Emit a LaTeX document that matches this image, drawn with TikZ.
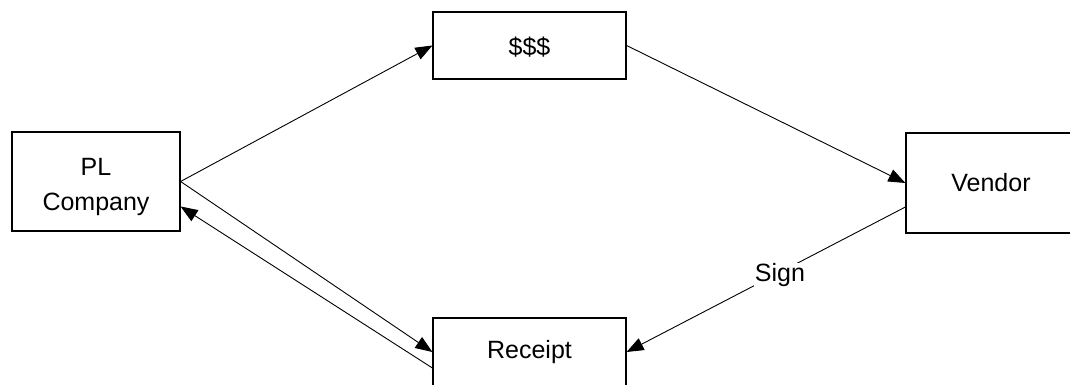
\documentclass[tikz,border=0pt]{standalone}
\usepackage{fontspec}
\setmainfont{Liberation Sans}
\usetikzlibrary{arrows.meta}
\begin{document}
\begin{tikzpicture}[x=1pt,y=-1pt,
  box/.style={draw, line width=1.2pt, inner sep=0pt},
  txt/.style={inner sep=0pt, align=center, font=\fontsize{25}{35}\selectfont},
  link/.style={line width=0.9pt, -{Triangle[length=17pt,width=13pt]}},
  tag/.style={fill=white, inner sep=1pt, font=\fontsize{25}{29}\selectfont}]
\useasboundingbox (0,0) rectangle (1070,385);
\clip (0,0) rectangle (1070,385);
% boxes
\node[box, minimum width=168pt, minimum height=99pt] (pl) at (96,181.5) {};
\node[txt, yshift=-5pt] (pltext) at (pl.center) {PL\\Company};
\node[box, minimum width=193pt, minimum height=67pt] (money) at (529.5,45.5) {};
\node[txt, yshift=-2pt] (moneytext) at (money.center) {\$\$\$};
\node[box, minimum width=193pt, minimum height=68pt] (receipt) at (529.5,352) {};
\node[txt] (receipttext) at (receipt.center) {Receipt};
\node[box, minimum width=200pt, minimum height=100pt] (vendor) at (1006,183) {};
\node[txt] (vendortext) at (991,183) {Vendor};
% connectors
\draw[link] (pl.east) -- (money.west);
\draw[link] (money.east) -- (vendor.west);
\draw[link] ([yshift=-24pt]vendor.west) -- node[tag, pos=0.45, yshift=-3pt] (sign) {Sign} (receipt.east);
\draw[link] (pl.east) -- (receipt.west);
\draw[link] ([yshift=-16pt]receipt.west) -- ([yshift=-25pt]pl.east);
\end{tikzpicture}
\end{document}
